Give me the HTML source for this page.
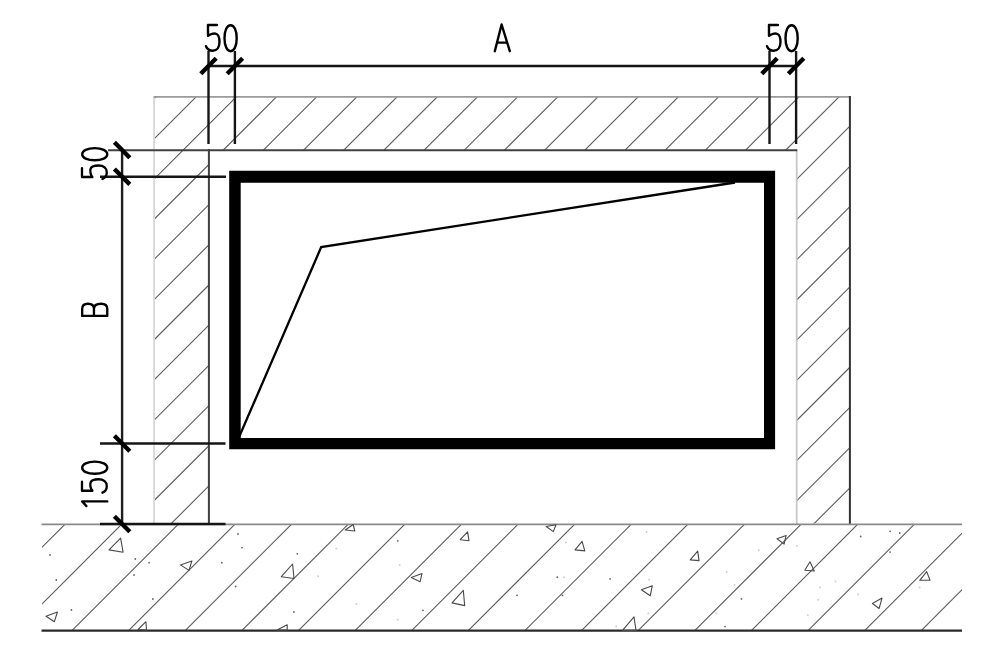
<!DOCTYPE html>
<html><head><meta charset="utf-8"><style>
html,body{margin:0;padding:0;background:#fff;width:997px;height:664px;overflow:hidden;font-family:"Liberation Sans",sans-serif;}
svg{display:block;}
</style></head><body>
<svg width="997" height="664" viewBox="0 0 997 664"><defs></defs><rect width="997" height="664" fill="#fff"/><g><defs>
<clipPath id="wc"><path d="M154,97 L850,97 L850,523.5 L796.6,523.5 L796.6,150 L208.8,150 L208.8,523.5 L154,523.5 Z"/></clipPath>
<clipPath id="gc"><rect x="42" y="524" width="920" height="106.5"/></clipPath>
</defs>
<g clip-path="url(#wc)" stroke="#5c5c5c" stroke-width="1.1">
<line x1="162.64" y1="50" x2="-437.36" y2="650"/>
<line x1="202.82" y1="50" x2="-397.18" y2="650"/>
<line x1="243.0" y1="50" x2="-357.0" y2="650"/>
<line x1="283.18" y1="50" x2="-316.82" y2="650"/>
<line x1="323.36" y1="50" x2="-276.64" y2="650"/>
<line x1="363.53999999999996" y1="50" x2="-236.46000000000004" y2="650"/>
<line x1="403.72" y1="50" x2="-196.27999999999997" y2="650"/>
<line x1="443.9" y1="50" x2="-156.10000000000002" y2="650"/>
<line x1="484.0799999999999" y1="50" x2="-115.92000000000007" y2="650"/>
<line x1="524.26" y1="50" x2="-75.74000000000001" y2="650"/>
<line x1="564.44" y1="50" x2="-35.559999999999945" y2="650"/>
<line x1="604.62" y1="50" x2="4.6200000000000045" y2="650"/>
<line x1="644.8" y1="50" x2="44.799999999999955" y2="650"/>
<line x1="684.98" y1="50" x2="84.98000000000002" y2="650"/>
<line x1="725.16" y1="50" x2="125.15999999999997" y2="650"/>
<line x1="765.34" y1="50" x2="165.34000000000003" y2="650"/>
<line x1="805.52" y1="50" x2="205.51999999999998" y2="650"/>
<line x1="845.7" y1="50" x2="245.70000000000005" y2="650"/>
<line x1="885.88" y1="50" x2="285.88" y2="650"/>
<line x1="926.06" y1="50" x2="326.05999999999995" y2="650"/>
<line x1="966.24" y1="50" x2="366.24" y2="650"/>
<line x1="1006.4200000000001" y1="50" x2="406.4200000000001" y2="650"/>
<line x1="1046.6" y1="50" x2="446.5999999999999" y2="650"/>
<line x1="1086.78" y1="50" x2="486.78" y2="650"/>
<line x1="1126.96" y1="50" x2="526.96" y2="650"/>
<line x1="1167.1399999999999" y1="50" x2="567.1399999999999" y2="650"/>
<line x1="1207.32" y1="50" x2="607.3199999999999" y2="650"/>
<line x1="1247.5" y1="50" x2="647.5" y2="650"/>
<line x1="1287.68" y1="50" x2="687.6800000000001" y2="650"/>
<line x1="1327.86" y1="50" x2="727.8599999999999" y2="650"/>
<line x1="1368.04" y1="50" x2="768.04" y2="650"/>
<line x1="1408.22" y1="50" x2="808.22" y2="650"/>
<line x1="1448.4" y1="50" x2="848.4000000000001" y2="650"/>
<line x1="1488.58" y1="50" x2="888.5799999999999" y2="650"/>
<line x1="1528.76" y1="50" x2="928.76" y2="650"/>
<line x1="1568.94" y1="50" x2="968.94" y2="650"/>
<line x1="1609.12" y1="50" x2="1009.1199999999999" y2="650"/>
<line x1="1649.3" y1="50" x2="1049.3" y2="650"/>
<line x1="1689.48" y1="50" x2="1089.48" y2="650"/>
<line x1="1729.66" y1="50" x2="1129.66" y2="650"/>
<line x1="1769.84" y1="50" x2="1169.84" y2="650"/>
<line x1="1810.02" y1="50" x2="1210.02" y2="650"/>
</g>
<g clip-path="url(#gc)" stroke="#5c5c5c" stroke-width="1.1">
<line x1="-23.940000000000055" y1="500" x2="-173.94000000000005" y2="650"/>
<line x1="32.67999999999995" y1="500" x2="-117.32000000000005" y2="650"/>
<line x1="89.29999999999995" y1="500" x2="-60.700000000000045" y2="650"/>
<line x1="145.91999999999996" y1="500" x2="-4.080000000000041" y2="650"/>
<line x1="202.53999999999996" y1="500" x2="52.539999999999964" y2="650"/>
<line x1="259.15999999999997" y1="500" x2="109.15999999999997" y2="650"/>
<line x1="315.78" y1="500" x2="165.77999999999997" y2="650"/>
<line x1="372.39999999999986" y1="500" x2="222.39999999999986" y2="650"/>
<line x1="429.02" y1="500" x2="279.02" y2="650"/>
<line x1="485.6399999999999" y1="500" x2="335.6399999999999" y2="650"/>
<line x1="542.26" y1="500" x2="392.26" y2="650"/>
<line x1="598.8799999999999" y1="500" x2="448.8799999999999" y2="650"/>
<line x1="655.5" y1="500" x2="505.5" y2="650"/>
<line x1="712.1199999999999" y1="500" x2="562.1199999999999" y2="650"/>
<line x1="768.7399999999998" y1="500" x2="618.7399999999998" y2="650"/>
<line x1="825.3599999999999" y1="500" x2="675.3599999999999" y2="650"/>
<line x1="881.98" y1="500" x2="731.98" y2="650"/>
<line x1="938.5999999999999" y1="500" x2="788.5999999999999" y2="650"/>
<line x1="995.2199999999998" y1="500" x2="845.2199999999998" y2="650"/>
<line x1="1051.84" y1="500" x2="901.8399999999999" y2="650"/>
<line x1="1108.46" y1="500" x2="958.46" y2="650"/>
<line x1="1165.08" y1="500" x2="1015.0799999999999" y2="650"/>
<line x1="1221.6999999999998" y1="500" x2="1071.6999999999998" y2="650"/>
<line x1="1278.32" y1="500" x2="1128.32" y2="650"/>
<line x1="1334.9399999999998" y1="500" x2="1184.9399999999998" y2="650"/>
<line x1="1391.56" y1="500" x2="1241.56" y2="650"/>
<line x1="1448.1799999999998" y1="500" x2="1298.1799999999998" y2="650"/>
<line x1="1504.8" y1="500" x2="1354.8" y2="650"/>
<line x1="1561.42" y1="500" x2="1411.42" y2="650"/>
<line x1="1618.04" y1="500" x2="1468.04" y2="650"/>
<line x1="1674.6599999999999" y1="500" x2="1524.6599999999999" y2="650"/>
<line x1="1731.2799999999997" y1="500" x2="1581.2799999999997" y2="650"/>
</g>
<line x1="154.1" y1="97" x2="154.1" y2="523.5" stroke="#d8d8d8" stroke-width="1.8" />
<line x1="153.5" y1="96.9" x2="850.5" y2="96.9" stroke="#9a9a9a" stroke-width="1.8" />
<line x1="849.9" y1="96" x2="849.9" y2="524" stroke="#333" stroke-width="2" />
<line x1="796.7" y1="150" x2="796.7" y2="524" stroke="#c8c8c8" stroke-width="1.8" />
<line x1="208.9" y1="149" x2="208.9" y2="524" stroke="#404040" stroke-width="2" />
<line x1="108" y1="150.2" x2="797.3" y2="150.2" stroke="#404040" stroke-width="2" />
<line x1="41.5" y1="524.4" x2="962" y2="524.4" stroke="#8a8a8a" stroke-width="1.8" />
<line x1="41.5" y1="630.7" x2="962" y2="630.7" stroke="#2a2a2a" stroke-width="2.2" />
<line x1="208.5" y1="66" x2="796.5" y2="66" stroke="#151515" stroke-width="2.4" />
<line x1="208.5" y1="51" x2="208.5" y2="144" stroke="#151515" stroke-width="2.4" />
<line x1="200.8" y1="73.7" x2="216.2" y2="58.3" stroke="#000" stroke-width="4.4" stroke-linecap="butt"/>
<line x1="234.9" y1="51" x2="234.9" y2="144" stroke="#151515" stroke-width="2.4" />
<line x1="227.20000000000002" y1="73.7" x2="242.6" y2="58.3" stroke="#000" stroke-width="4.4" stroke-linecap="butt"/>
<line x1="769.5" y1="51" x2="769.5" y2="144" stroke="#151515" stroke-width="2.4" />
<line x1="761.8" y1="73.7" x2="777.2" y2="58.3" stroke="#000" stroke-width="4.4" stroke-linecap="butt"/>
<line x1="796.1" y1="51" x2="796.1" y2="144" stroke="#151515" stroke-width="2.4" />
<line x1="788.4" y1="73.7" x2="803.8000000000001" y2="58.3" stroke="#000" stroke-width="4.4" stroke-linecap="butt"/>
<line x1="122.1" y1="150" x2="122.1" y2="524" stroke="#1e1e1e" stroke-width="2.4" />
<line x1="100" y1="176.7" x2="226" y2="176.7" stroke="#151515" stroke-width="2.4" />
<line x1="100" y1="443.5" x2="225.5" y2="443.5" stroke="#151515" stroke-width="2.4" />
<line x1="100" y1="524" x2="225.5" y2="524" stroke="#151515" stroke-width="2.4" />
<line x1="114.39999999999999" y1="142.3" x2="129.79999999999998" y2="157.7" stroke="#000" stroke-width="4.4" stroke-linecap="butt"/>
<line x1="114.39999999999999" y1="169.0" x2="129.79999999999998" y2="184.39999999999998" stroke="#000" stroke-width="4.4" stroke-linecap="butt"/>
<line x1="114.39999999999999" y1="435.8" x2="129.79999999999998" y2="451.2" stroke="#000" stroke-width="4.4" stroke-linecap="butt"/>
<line x1="114.39999999999999" y1="516.3" x2="129.79999999999998" y2="531.7" stroke="#000" stroke-width="4.4" stroke-linecap="butt"/>
<path fill="#000" fill-rule="evenodd" d="M229.2,170.7 L775.1,170.7 L775.1,449.2 L229.2,449.2 Z M240.7,182.8 L764,182.8 L764,438 L240.7,438 Z"/>
<polyline points="237.8,440 321.2,247.1 735,182.5" fill="none" stroke="#000" stroke-width="2.3" stroke-linejoin="miter"/>
<g transform="translate(206,24.6)" fill="none" stroke="#000" stroke-width="2.4" stroke-linecap="round" stroke-linejoin="round"><path transform="translate(0,0)" d="M10.9,0.4 L2,0.4 L2,11.2 C4,9.3 8,8.4 10.5,9.4 C13,10.6 13.5,14 13.5,17.5 C13.5,23 10.5,26.1 6.8,26.1 C4,26.1 1.2,24.5 0,21.6"/><path transform="translate(0,0)" d="M24.6,0.6 C28.200000000000003,0.6 30.700000000000003,6 30.700000000000003,13.6 C30.700000000000003,21.2 28.200000000000003,26.6 24.6,26.6 C21.0,26.6 18.5,21.2 18.5,13.6 C18.5,6 21.0,0.6 24.6,0.6 Z"/></g>
<g transform="translate(767,24.6)" fill="none" stroke="#000" stroke-width="2.4" stroke-linecap="round" stroke-linejoin="round"><path transform="translate(0,0)" d="M10.9,0.4 L2,0.4 L2,11.2 C4,9.3 8,8.4 10.5,9.4 C13,10.6 13.5,14 13.5,17.5 C13.5,23 10.5,26.1 6.8,26.1 C4,26.1 1.2,24.5 0,21.6"/><path transform="translate(0,0)" d="M24.6,0.6 C28.200000000000003,0.6 30.700000000000003,6 30.700000000000003,13.6 C30.700000000000003,21.2 28.200000000000003,26.6 24.6,26.6 C21.0,26.6 18.5,21.2 18.5,13.6 C18.5,6 21.0,0.6 24.6,0.6 Z"/></g>
<g transform="translate(494.2,24.6)" fill="none" stroke="#000" stroke-width="2.4" stroke-linecap="round" stroke-linejoin="round"><path transform="translate(0,0)" d="M0.6,26.6 L7.4,-0.1 L15.6,26.6 M3,18 L12,18"/></g>
<g transform="translate(81.6,179.0) rotate(-90) scale(1,0.965)" fill="none" stroke="#000" stroke-width="2.4" stroke-linecap="round" stroke-linejoin="round"><path transform="translate(0,0)" d="M10.9,0.4 L2,0.4 L2,11.2 C4,9.3 8,8.4 10.5,9.4 C13,10.6 13.5,14 13.5,17.5 C13.5,23 10.5,26.1 6.8,26.1 C4,26.1 1.2,24.5 0,21.6"/><path transform="translate(0,0)" d="M24.8,0.6 C28.400000000000002,0.6 30.9,6 30.9,13.6 C30.9,21.2 28.400000000000002,26.6 24.8,26.6 C21.2,26.6 18.700000000000003,21.2 18.700000000000003,13.6 C18.700000000000003,6 21.2,0.6 24.8,0.6 Z"/></g>
<g transform="translate(81.6,317) rotate(-90) scale(1,0.965)" fill="none" stroke="#000" stroke-width="2.4" stroke-linecap="round" stroke-linejoin="round"><path transform="translate(0,0)" d="M1.1,0.6 L1.1,26.6 L8,26.6 C11.5,26.6 13.2,24.4 13.2,20.2 C13.2,15.6 11.5,12.8 8,12.8 L1.1,12.8 M8,12.8 C11.5,12.8 13.2,10.6 13.2,6.6 C13.2,2.8 11.5,0.6 8,0.6 L1.1,0.6"/></g>
<g transform="translate(81.6,506.7) rotate(-90) scale(1,0.965)" fill="none" stroke="#000" stroke-width="2.4" stroke-linecap="round" stroke-linejoin="round"><path transform="translate(0,0)" d="M5.3,0.6 L5.3,26.6 M5.3,0.6 L0.6,5"/><path transform="translate(14.0,0)" d="M10.9,0.4 L2,0.4 L2,11.2 C4,9.3 8,8.4 10.5,9.4 C13,10.6 13.5,14 13.5,17.5 C13.5,23 10.5,26.1 6.8,26.1 C4,26.1 1.2,24.5 0,21.6"/><path transform="translate(0,0)" d="M39.0,0.6 C42.6,0.6 45.1,6 45.1,13.6 C45.1,21.2 42.6,26.6 39.0,26.6 C35.4,26.6 32.9,21.2 32.9,13.6 C32.9,6 35.4,0.6 39.0,0.6 Z"/></g>
<g fill="none" stroke="#4a4a4a" stroke-width="1.1" stroke-linejoin="round">
<path d="M120.6,538.1 L109,549.9 L123.1,552.2 Z"/>
<path d="M180.4,564.9 L191.9,560.9 L189,570.4 Z"/>
<path d="M46,616.2 L57.4,612 L54.4,621.7 Z"/>
<path d="M145.9,621.7 L138.1,629.5 L146.5,630 Z"/>
<path d="M345.2,530 L353.2,524.5 L354.8,531 Z"/>
<path d="M292.6,564 L281.3,576.7 L294,578.5 Z"/>
<path d="M467.6,531.9 L460.2,539.7 L469,540.7 Z"/>
<path d="M411.3,577.4 L422,573.5 L420.1,581.8 Z"/>
<path d="M463.3,590.4 L452,602.9 L464.7,605.6 Z"/>
<path d="M287.2,624.8 L277,630 L287.2,630 Z"/>
<path d="M546.2,526.5 L556,524.8 L553.3,531.6 Z"/>
<path d="M582.1,541.4 L575,549.9 L584.8,550.9 Z"/>
<path d="M697.7,551.1 L690.2,559.9 L699,560.6 Z"/>
<path d="M652.3,585.7 L641.4,589.7 L650.2,595.8 Z"/>
<path d="M634,616.8 L622.5,630.4 L636,630.4 Z"/>
<path d="M777,538.7 L786.1,535.4 L784.1,544.1 Z"/>
<path d="M810,561.8 L804.8,570.2 L814.3,571 Z"/>
<path d="M926.7,571.6 L919.7,580.3 L930,580.3 Z"/>
<path d="M882,598.1 L872.4,603.5 L879.1,608.5 Z"/>
</g>
<g fill="#666">
<circle cx="50" cy="555" r="0.9"/>
<circle cx="238" cy="534" r="0.9"/>
<circle cx="242" cy="547.6" r="0.9"/>
<circle cx="221.8" cy="562.7" r="0.9"/>
<circle cx="135.3" cy="559" r="0.9"/>
<circle cx="149.1" cy="562.7" r="0.9"/>
<circle cx="134" cy="575" r="0.9"/>
<circle cx="56.3" cy="580" r="0.9"/>
<circle cx="71.4" cy="610" r="0.9"/>
<circle cx="152.9" cy="599" r="0.9"/>
<circle cx="235.6" cy="586.5" r="0.9"/>
<circle cx="397.8" cy="540.8" r="0.9"/>
<circle cx="297.3" cy="553.8" r="0.9"/>
<circle cx="293.9" cy="611.9" r="0.9"/>
<circle cx="423" cy="610.3" r="0.9"/>
<circle cx="517" cy="595.3" r="0.9"/>
<circle cx="557.3" cy="577.2" r="0.9"/>
<circle cx="562.5" cy="595.4" r="0.9"/>
<circle cx="610.1" cy="578.9" r="0.9"/>
<circle cx="741.5" cy="598.9" r="0.9"/>
<circle cx="725" cy="626.6" r="0.9"/>
<circle cx="860.7" cy="536.5" r="0.9"/>
<circle cx="890.1" cy="531.3" r="0.9"/>
<circle cx="899.7" cy="533" r="0.9"/>
<circle cx="890.1" cy="552.1" r="0.9"/>
</g>
<g fill="#d0d0d0">
<circle cx="336.3" cy="548.6" r="1"/>
<circle cx="318.1" cy="576.3" r="1"/>
<circle cx="399.6" cy="565.1" r="1"/>
<circle cx="356.3" cy="604" r="1"/>
<circle cx="397.8" cy="619.7" r="1"/>
<circle cx="565.9" cy="542.5" r="1"/>
<circle cx="564.2" cy="577.2" r="1"/>
<circle cx="646.5" cy="532.1" r="1"/>
<circle cx="649.1" cy="579.8" r="1"/>
<circle cx="648.2" cy="613.6" r="1"/>
<circle cx="616.2" cy="626.6" r="1"/>
<circle cx="716.3" cy="613.6" r="1"/>
<circle cx="726.7" cy="572" r="1"/>
<circle cx="734.5" cy="585" r="1"/>
<circle cx="758.8" cy="550.3" r="1"/>
<circle cx="796.9" cy="546" r="1"/>
<circle cx="819.9" cy="587.6" r="1"/>
<circle cx="835.5" cy="581.5" r="1"/>
<circle cx="818.2" cy="599.7" r="1"/>
<circle cx="807.8" cy="615.3" r="1"/>
<circle cx="858.1" cy="594.5" r="1"/>
<circle cx="919.6" cy="587.6" r="1"/>
</g></g></svg>
</body></html>
